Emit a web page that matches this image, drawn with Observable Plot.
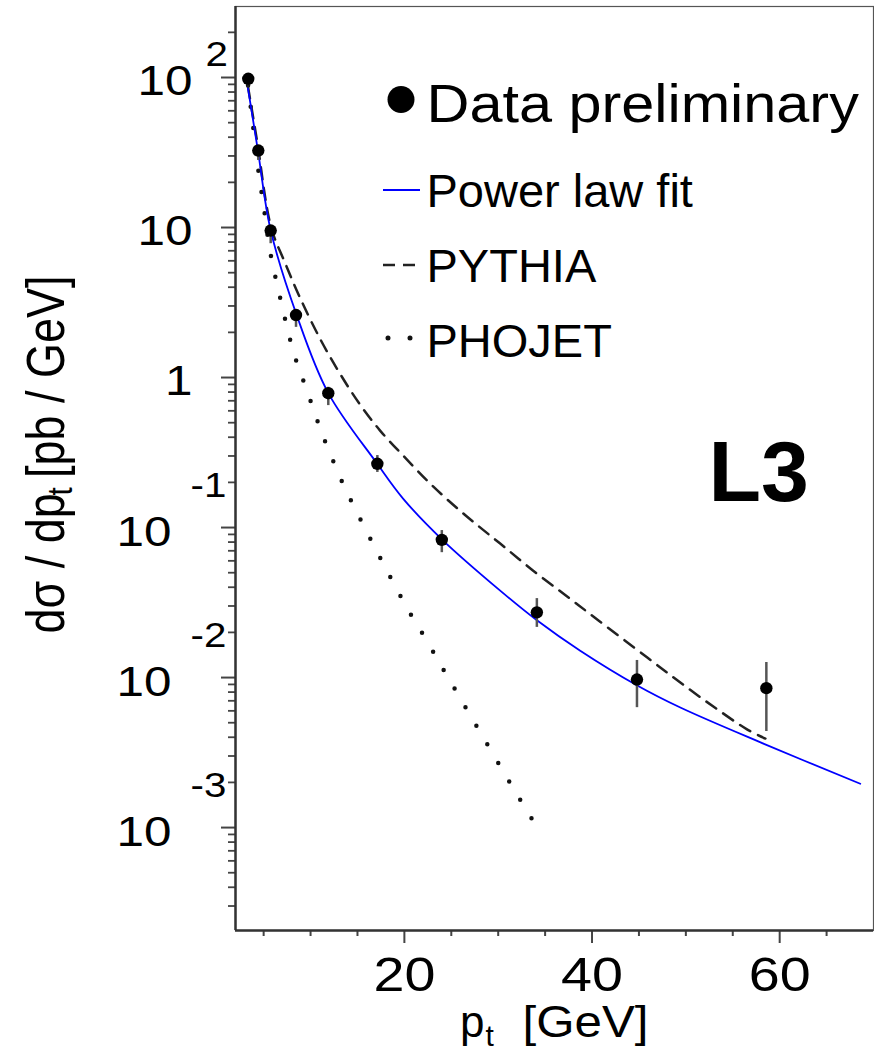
<!DOCTYPE html>
<html>
<head>
<meta charset="utf-8">
<script src="https://cdn.jsdelivr.net/npm/d3@7"></script>
<script src="https://cdn.jsdelivr.net/npm/@observablehq/plot@0.6"></script>
<style>
  html, body { margin: 0; padding: 0; background: #fff; }
  #chart svg { display: block; }
</style>
</head>
<body>
<div id="chart"></div>
<script>
// ---------- data ----------
// L3 preliminary data points
const ptData    = [3.36, 4.43, 5.75, 8.45, 11.89, 17.12, 23.99, 34.12, 44.79, 58.58];
const sigmaData = [98.0, 32.6, 9.55, 2.61, 0.786, 0.266, 0.0828, 0.0272, 0.0097, 0.0085];
const sigmaHi   = [106, 35.2, 10.3, 2.72, 0.861, 0.302, 0.0955, 0.0336, 0.0130, 0.0126];
const sigmaLo   = [88.5, 28.0, 7.8, 2.16, 0.65, 0.233, 0.068, 0.0216, 0.0063, 0.00437];

// Power law fit (blue)
const fitPt    = [3.33, 4.39, 5.73, 8.50, 11.86, 17.09, 19.86, 24.02, 30.21, 34.16, 38.74, 44.82, 49.41, 58.26, 68.59];
const fitSigma = [84.5, 32.6, 9.70, 2.63, 0.794, 0.267, 0.156, 0.0832, 0.0380, 0.0240, 0.0151, 0.00885, 0.00631, 0.00363, 0.00196];

// PYTHIA (dashed)
const pythiaPt    = [3.33, 4.29, 5.80, 7.27, 8.87, 11.0, 13.14, 15.27, 17.41, 19.97, 23.06, 26.69, 30.21, 33.73, 37.35, 40.55, 45.89, 49.41, 52.93, 56.56, 58.48];
const pythiaSigma = [87.1, 38.0, 10.0, 5.84, 3.41, 1.82, 1.06, 0.661, 0.443, 0.297, 0.188, 0.118, 0.0782, 0.0516, 0.0347, 0.0244, 0.0136, 0.00926, 0.00641, 0.00450, 0.00392];

// PHOJET (dotted)
const phojetPt    = [3.34, 3.86, 4.39, 5.03, 5.67, 6.63, 8.23, 9.73, 11.22, 12.93, 13.89, 20.08, 22.43, 24.66, 32.66, 34.05];
const phojetSigma = [88.5, 47.9, 25.1, 13.4, 7.03, 3.69, 1.445, 0.782, 0.424, 0.233, 0.171, 0.0307, 0.0174, 0.0100, 0.00142, 0.00103];

// ---------- axes ----------
const xDomain = [2, 70];
const yDomain = [2.06e-4, 297.4];
const xMajorTicks = [20, 40, 60];
const xTickLabels = ["20", "40", "60"];
const xMinorTicks = [5, 10, 15, 25, 30, 35, 45, 50, 55, 65];
const yMajorTicks = [1e2, 1e1, 1, 1e-1, 1e-2, 1e-3];
const yTickBase   = ["10", "10", "1", "10", "10", "10"];
const yTickExp    = ["2", "", "", "-1", "-2", "-3"];
const yMinorTicks = [];
for (let e = -4; e <= 2; e++) for (let k = 2; k <= 9; k++) {
  const v = k * Math.pow(10, e);
  if (v > yDomain[0] && v < yDomain[1]) yMinorTicks.push(v);
}

// legend / annotation text
const legendTitles = ["Data preliminary", "Power law fit", "PYTHIA", "PHOJET"];
const experimentLabel = "L3";

// ---------- tables ----------
const points = ptData.map((x, i) => ({x, y: sigmaData[i], lo: sigmaLo[i], hi: sigmaHi[i]}));
const fit    = fitPt.map((x, i) => ({x, y: fitSigma[i]}));
const pythia = pythiaPt.map((x, i) => ({x, y: pythiaSigma[i]}));
const phojet = phojetPt.map((x, i) => ({x, y: phojetSigma[i]}));
const xLabels = xMajorTicks.map((v, i) => ({v, t: xTickLabels[i]}));
const yLabels = yMajorTicks.map((v, i) => ({v, base: yTickBase[i], exp: yTickExp[i]}));
const yPos = yLabels.filter(d => d.v >= 1);
const yNeg = yLabels.filter(d => d.v < 1);

const FONT = "'Liberation Sans', Arial, Helvetica, sans-serif";
const AX = "#444";

function legendSamples(index, scales, values, dims) {
  const x0 = dims.marginLeft, y0 = dims.marginTop;
  const g = d3.create("svg:g").attr("aria-label", "legend samples");
  g.append("circle").attr("cx", x0 + 166).attr("cy", y0 + 93.5).attr("r", 13.5).attr("fill", "black");
  g.append("line").attr("x1", x0 + 148).attr("x2", x0 + 185).attr("y1", y0 + 184).attr("y2", y0 + 184)
    .attr("stroke", "#0000ff").attr("stroke-width", 2);
  g.append("line").attr("x1", x0 + 148).attr("x2", x0 + 180).attr("y1", y0 + 259).attr("y2", y0 + 259)
    .attr("stroke", "#222").attr("stroke-width", 2.5).attr("stroke-dasharray", "12 8");
  g.append("line").attr("x1", x0 + 153).attr("x2", x0 + 175.5).attr("y1", y0 + 332).attr("y2", y0 + 332)
    .attr("stroke", "#111").attr("stroke-width", 5).attr("stroke-linecap", "round").attr("stroke-dasharray", "0 22");
  return g.node();
}

const legendText = (label, dy, fontSize) =>
  Plot.text([label], {frameAnchor: "top-left", textAnchor: "start", lineAnchor: "bottom", dx: 191, dy, fontSize});

const plot = Plot.plot({
  width: 874,
  height: 1052,
  marginLeft: 235,
  marginRight: 1,
  marginTop: 6,
  marginBottom: 122,
  style: {fontFamily: FONT, background: "white", color: "black", overflow: "visible"},
  x: {domain: xDomain},
  y: {type: "log", domain: yDomain},
  marks: [
    // frame + axes lines
    Plot.frame({stroke: "#555", strokeWidth: 1.2}),
    Plot.axisX(xMinorTicks, {tickSize: 6, tickFormat: () => "", label: null, stroke: AX, strokeWidth: 2}),
    Plot.axisX(xMajorTicks, {tickSize: 13, tickFormat: () => "", label: null, stroke: AX, strokeWidth: 2}),
    Plot.axisY(yMinorTicks, {tickSize: 7, tickFormat: () => "", label: null, stroke: AX, strokeWidth: 1.8}),
    Plot.axisY(yMajorTicks, {tickSize: 14, tickFormat: () => "", label: null, stroke: AX, strokeWidth: 2}),
    Plot.ruleX([xDomain[0]], {stroke: "#333", strokeWidth: 2.5}),
    Plot.ruleY([yDomain[0]], {stroke: "#333", strokeWidth: 2.5}),

    // x tick labels
    Plot.text(xLabels, {x: "v", text: "t", frameAnchor: "bottom", lineAnchor: "top", dy: 26, fontSize: 48}),
    // y tick labels
    Plot.text(yPos, {y: "v", text: "base", frameAnchor: "left", textAnchor: "end", lineAnchor: "middle",
      dx: -43, dy: 4, fontSize: 43}),
    Plot.text(yNeg, {y: "v", text: "base", frameAnchor: "left", textAnchor: "end", lineAnchor: "middle",
      dx: -64, dy: 5, fontSize: 43}),
    Plot.text(yPos.filter(d => d.exp), {y: "v", text: "exp", frameAnchor: "left", textAnchor: "start", lineAnchor: "middle",
      dx: -30, dy: -23, fontSize: 36}),
    Plot.text(yNeg, {y: "v", text: "exp", frameAnchor: "left", textAnchor: "start", lineAnchor: "middle",
      dx: -45, dy: -42, fontSize: 36}),

    // axis titles
    Plot.text(["p"], {frameAnchor: "bottom", textAnchor: "start", lineAnchor: "bottom", dx: -94.5, dy: 106, fontSize: 44}),
    Plot.text(["t"], {frameAnchor: "bottom", textAnchor: "start", lineAnchor: "bottom", dx: -69, dy: 115, fontSize: 30}),
    Plot.text(["[GeV]"], {frameAnchor: "bottom", textAnchor: "start", lineAnchor: "bottom", dx: -32, dy: 106, fontSize: 44}),
    Plot.text(["dσ / dp"], {frameAnchor: "left", rotate: -90, textAnchor: "start", lineAnchor: "bottom", dx: -172, dy: 165, fontSize: 45}),
    Plot.text(["t"], {frameAnchor: "left", rotate: -90, textAnchor: "start", lineAnchor: "bottom", dx: -164, dy: 27, fontSize: 30}),
    Plot.text(["[pb / GeV]"], {frameAnchor: "left", rotate: -90, textAnchor: "end", lineAnchor: "bottom", dx: -172, dy: -193, fontSize: 45}),

    // curves
    Plot.line(phojet, {x: "x", y: "y", curve: "catmull-rom", stroke: "#111", strokeWidth: 4.5,
      strokeDasharray: "0 21.5", strokeLinecap: "round"}),
    Plot.line(pythia, {x: "x", y: "y", curve: "catmull-rom", stroke: "#222", strokeWidth: 2.5,
      strokeDasharray: "12 8.5"}),
    Plot.line(fit, {x: "x", y: "y", curve: "catmull-rom", stroke: "#0000ff", strokeWidth: 1.8}),

    // data
    Plot.ruleX(points, {x: "x", y1: "lo", y2: "hi", stroke: "#555", strokeWidth: 2.5}),
    Plot.dot(points, {x: "x", y: "y", r: 6.2, fill: "black", stroke: null}),

    // legend
    legendSamples,
    legendText(legendTitles[0], 115.7, 54),
    legendText(legendTitles[1], 200.7, 47),
    legendText(legendTitles[2], 275.7, 47),
    legendText(legendTitles[3], 350.7, 47),
    Plot.text([experimentLabel], {frameAnchor: "top-left", textAnchor: "start", lineAnchor: "bottom",
      dx: 473, dy: 494, fontSize: 86, fontWeight: "bold"})
  ]
});

// the reference typesetting is horizontally wide: stretch selected labels about their anchor
const stretchFor = new Map([
  ...xTickLabels.map(t => [t, 1.16]),
  ...yTickBase.map(t => [t, 1.15]),
  ...yTickExp.filter(Boolean).map(t => [t, 1.12]),
  [legendTitles[0], 1.1],
  ["[GeV]", 1.12]
]);
plot.querySelectorAll("text").forEach(t => {
  const tr = t.getAttribute("transform");
  if (!tr) return;
  if (tr.includes("rotate")) {
    // rotated y title: widen on screen (local y axis)
    t.setAttribute("transform", tr + " scale(1,1.18)");
    return;
  }
  const s = stretchFor.get(t.textContent);
  if (s) t.setAttribute("transform", tr + ` scale(${s},1)`);
});

document.getElementById("chart").appendChild(plot);
</script>
</body>
</html>
